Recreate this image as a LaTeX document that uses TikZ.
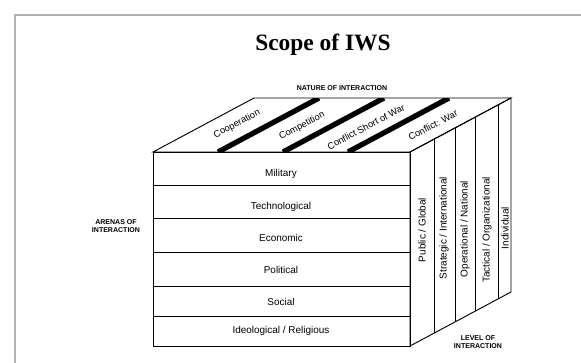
\documentclass[tikz,border=0pt]{standalone}
\usepackage{fontspec}
\setmainfont{Liberation Serif}
\setsansfont{Liberation Sans}
\usetikzlibrary{calc}
\tikzset{
  arena/.style={font=\sffamily\fontsize{8.5}{9}\selectfont},
  nature/.style={font=\sffamily\fontsize{8}{9}\selectfont,rotate=28,inner sep=0.5pt},
  level/.style={font=\sffamily\fontsize{8.5}{9}\selectfont,rotate=90,inner sep=1pt},
  caption/.style={font=\sffamily\bfseries\fontsize{6}{7.5}\selectfont,align=center},
  stripe/.style={line width=4.5pt}
}
\begin{document}
\begin{tikzpicture}[x=0.03cm,y=-0.03cm,line width=0.8pt]
	\useasboundingbox (0,0) rectangle (581,363);
	\draw[gray!60,line width=1pt] (15,363) -- (15,15) -- (581,15);
	\node[font=\bfseries\fontsize{20}{24}\selectfont] (title) at (323,45) {Scope of IWS};
	\node[caption] (nat) at (342,88) {NATURE OF INTERACTION};
	\node[caption] (are) at (116,226) {ARENAS OF\\INTERACTION};
	\node[caption] (lev) at (478,342) {LEVEL OF\\INTERACTION};
	\coordinate (fl) at (153,152);
	\coordinate (fr) at (410,152);
	\coordinate (bl) at (254,98);
	\coordinate (br) at (511,98);
	\coordinate (fbl) at (153,346);
	\coordinate (fbr) at (410,346);
	\coordinate (bbr) at (511,292);
	\begin{scope}
		\clip (fl) -- (bl) -- (br) -- (fr) -- cycle;
		\draw[stripe] (218,152) -- ++(101,-54);
		\draw[stripe] (283,152) -- ++(101,-54);
		\draw[stripe] (348,152) -- ++(101,-54);
	\end{scope}
	\draw (fl) -- (bl) -- (br) -- (fr) -- cycle;
	\draw (fr) -- (br) -- (bbr) -- (fbr) -- cycle;
	\draw (fl) rectangle (fbr);
	\draw (153,185) -- (410,185);
	\draw (153,218) -- (410,218);
	\draw (153,252) -- (410,252);
	\draw (153,286) -- (410,286);
	\draw (153,316) -- (410,316);
	\draw ($(fr)!0.238!(br)$) -- ($(fbr)!0.238!(bbr)$);
	\draw ($(fr)!0.446!(br)$) -- ($(fbr)!0.446!(bbr)$);
	\draw ($(fr)!0.653!(br)$) -- ($(fbr)!0.653!(bbr)$);
	\draw ($(fr)!0.871!(br)$) -- ($(fbr)!0.871!(bbr)$);
	\node[arena] (mil) at (281,174) {Military};
	\node[arena] (tec) at (281,207) {Technological};
	\node[arena] (eco) at (281,238) {Economic};
	\node[arena] (pol) at (281,270) {Political};
	\node[arena] (soc) at (281,302) {Social};
	\node[arena] (ide) at (281,331) {Ideological / Religious};
	\node[nature] (coo) at (237,124) {Cooperation};
	\node[nature] (com) at (302,126) {Competition};
	\node[nature] (csw) at (366,127) {Conflict Short of War};
	\node[nature] (cwa) at (433,125) {Conflict: War};
	\node[level] (pub) at (422,230) {Public / Global};
	\node[level] (str) at (444,228) {Strategic / International};
	\node[level] (ope) at (465,229) {Operational / National};
	\node[level] (tac) at (487,230) {Tactical / Organizational};
	\node[level] (ind) at (505,228) {Individual};
\end{tikzpicture}
\end{document}
